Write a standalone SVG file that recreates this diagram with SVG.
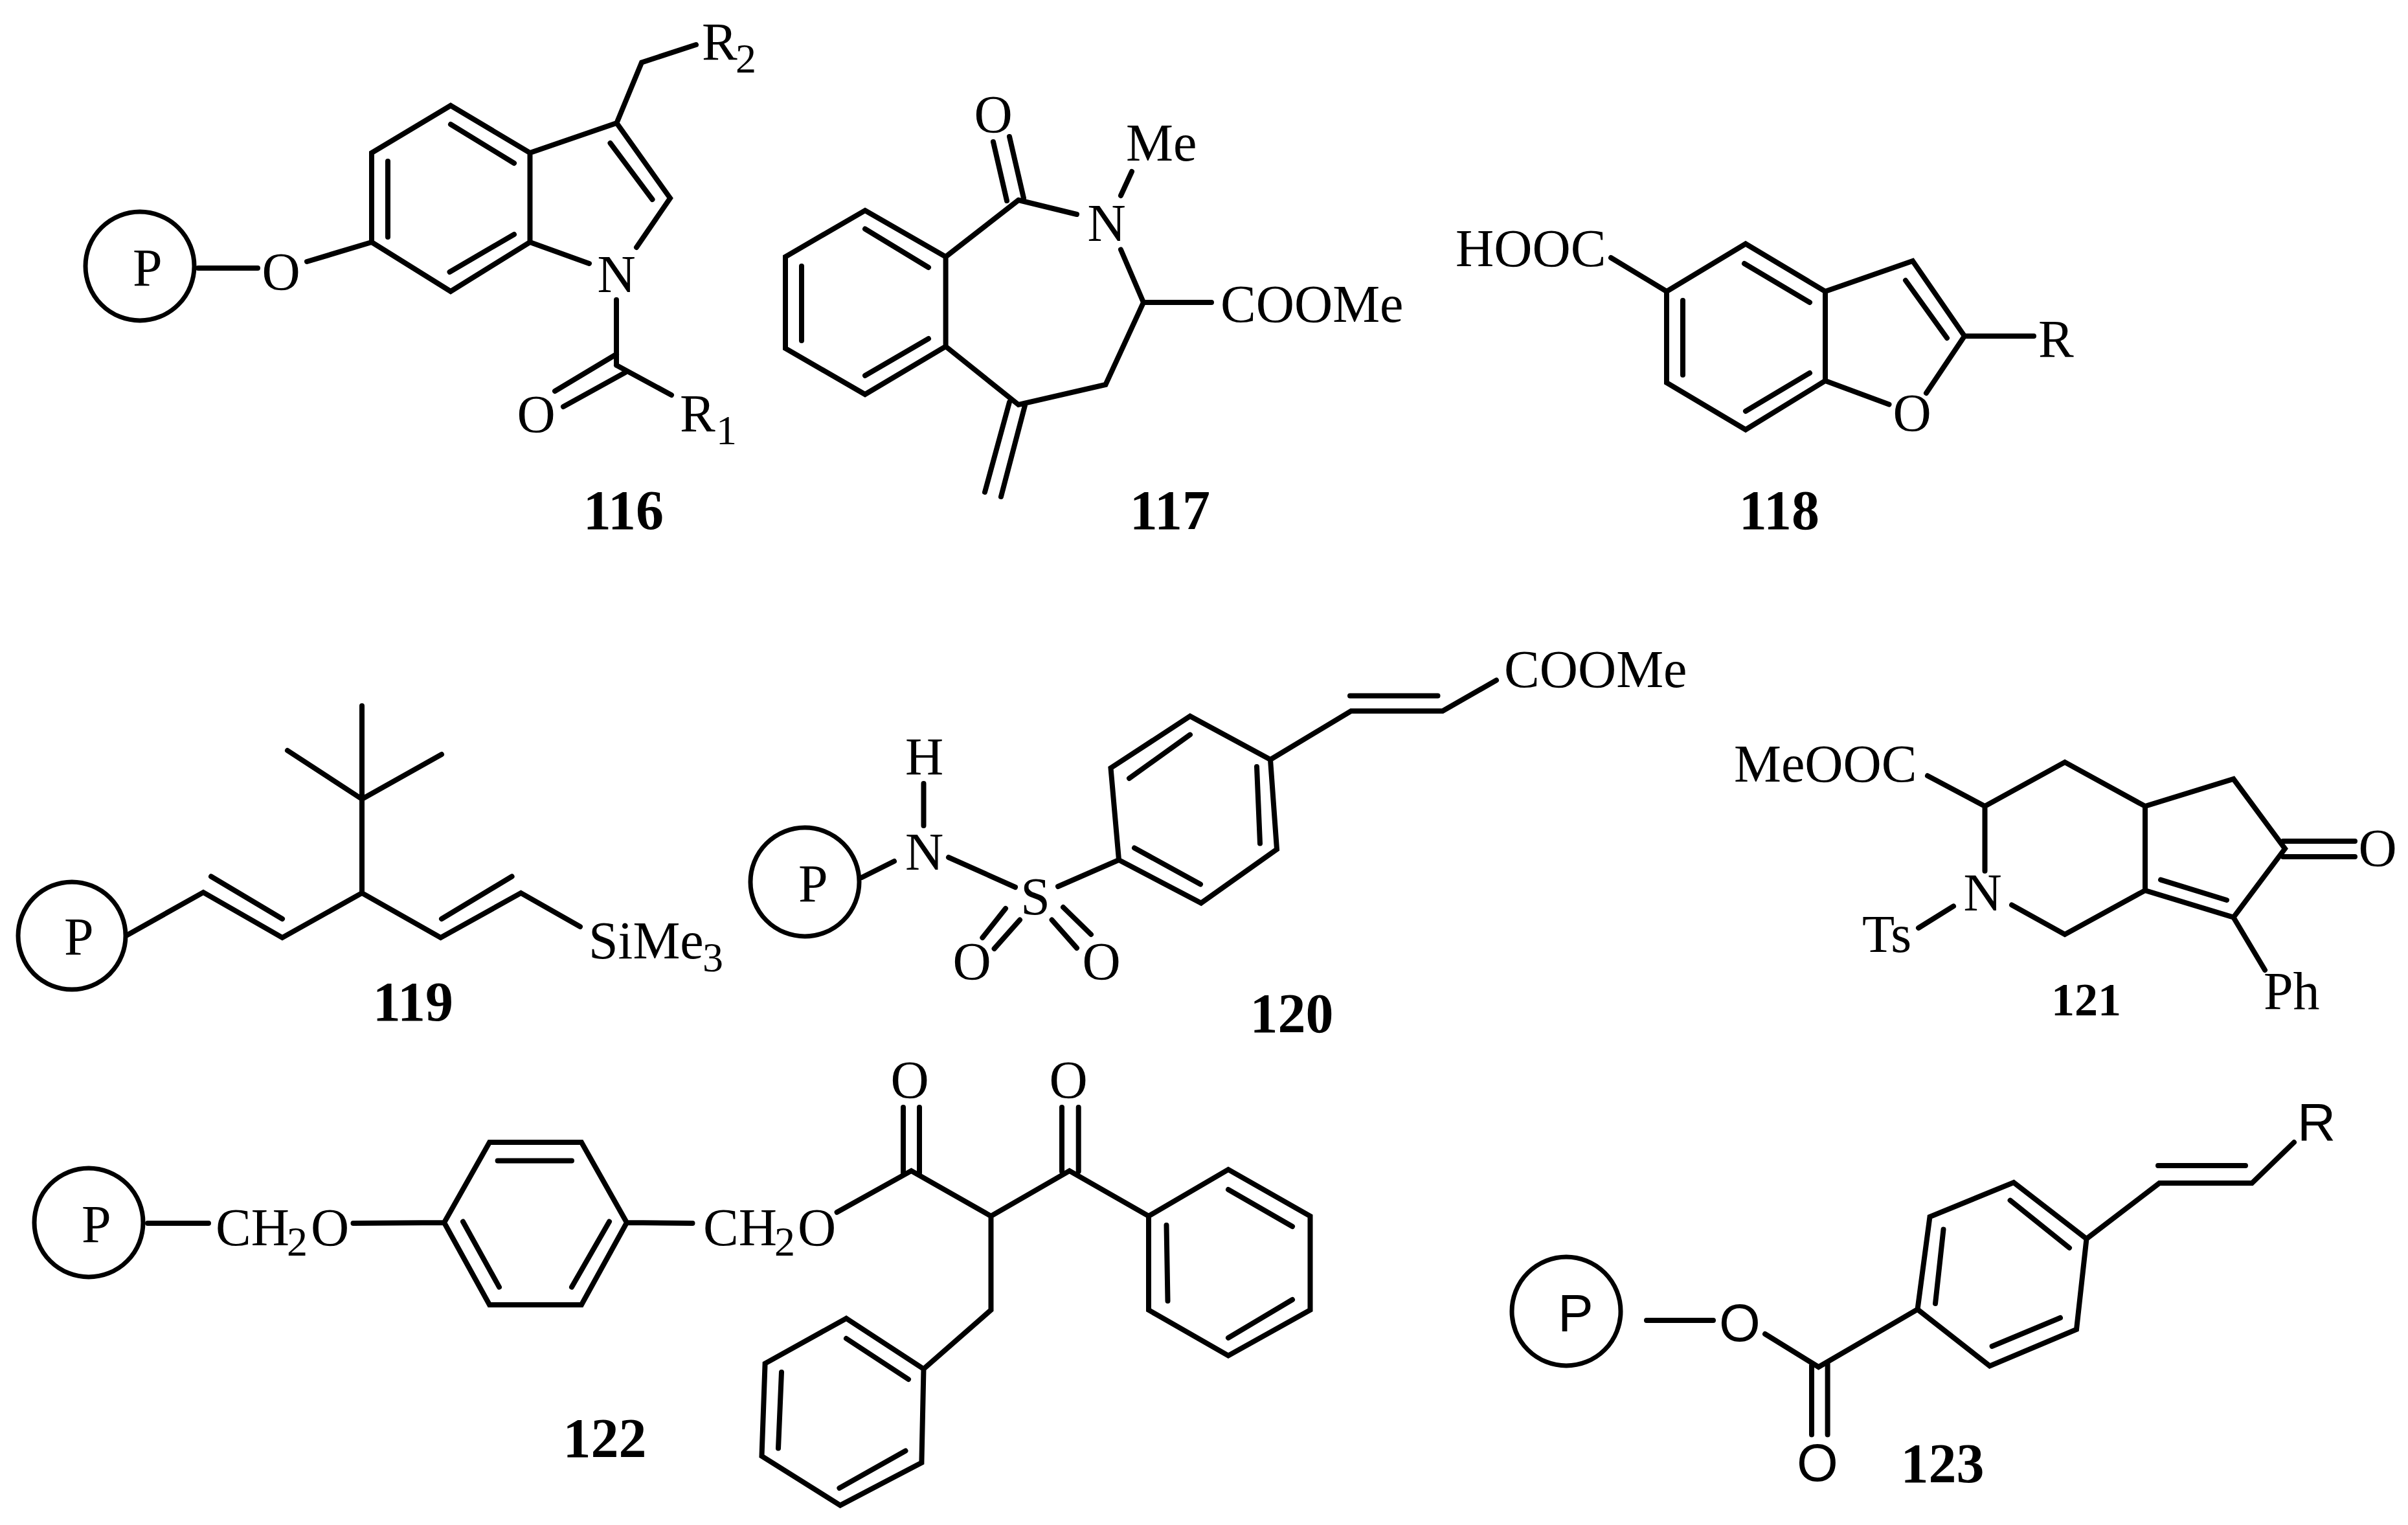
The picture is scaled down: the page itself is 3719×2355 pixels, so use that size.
<svg xmlns="http://www.w3.org/2000/svg" width="3719" height="2355" viewBox="0 0 3719 2355">
<style>
.bg{fill:#fff}
.l{fill:none;stroke:#000;stroke-width:8;stroke-linecap:round;stroke-linejoin:miter}
.c{fill:#fff;stroke:#000;stroke-width:7}
text{font-family:"Liberation Serif","Times New Roman",serif;font-size:82px;fill:#000}
.m{text-anchor:middle}
.b{font-weight:bold;text-anchor:middle;font-size:86px}
.s{font-size:64px}
.a{font-family:"Liberation Sans",Arial,sans-serif}
</style>
<rect class="bg" width="3719" height="2355"/>
<g id="c116">
<circle class="c" cx="216" cy="411" r="84"/>
<path class="l" d="M306 414H398M474 404L574 374M696 163L818.500 236V374L696 450L574 374V236ZM696 192L794 252M599 249V366M794 362L694.500 420M818.500 236L952.400 190L1035 306L983 382M942.500 221L1007.500 308M818.500 374L910 407M952.400 190L991 96.500L1075 69M952 463V564M952 547L857 604M966 575L870 628M952 564L1037 610"/>
<text x="205" y="441">P</text><text class="m" x="434" y="447">O</text><text class="m" x="952" y="451">N</text><text class="m" x="828" y="667">O</text>
<text x="1050" y="666">R</text><text class="s" x="1106" y="686">1</text>
<text x="1084" y="92">R</text><text class="s" x="1136" y="112">2</text>
<text class="b" x="963" y="817">116</text>
</g>
<g id="c117">
<path class="l" d="M1336 325L1460.600 396.500V535L1336 609L1213 538V396.500ZM1336 353.500L1434 413M1238 411V526M1336 580L1434 523M1460.600 396.500L1573 309M1534 219L1555 310M1559 211L1581 306M1573 309L1663 331M1748 265L1731 302M1731 385.500L1766 467H1871M1766 467L1707.500 594L1573 625L1460.600 535M1559 621L1521 760M1583 626L1546 767"/>
<text class="m" x="1534" y="204">O</text><text class="m" x="1709" y="372">N</text><text x="1739" y="248">Me</text><text x="1885" y="497">COOMe</text>
<text class="b" x="1807" y="817">117</text>
</g>
<g id="c118">
<path class="l" d="M2696 376.500L2819 450V588L2696 663.500L2574 591V450ZM2694 407L2795 467M2599 464V579M2696 635L2795 576M2819 450L2954 403L3034 519L2975 607M2943 433L3007 522M2819 588L2917.500 624.500M3034 519H3141M2488 398L2574 450"/>
<text class="m" x="2953" y="665">O</text><text x="3148" y="551">R</text><text x="2248" y="411">HOOC</text>
<text class="b" x="2748" y="817">118</text>
</g>
<g id="c119">
<circle class="c" cx="111" cy="1445" r="83"/>
<path class="l" d="M196.500 1444L314 1378L436 1448L559 1379L680.600 1448L804.500 1379L896 1431M326 1353.500L436 1419M682 1419L790.600 1353.500M559 1379V1090M559 1234L444 1159M559 1234L682 1165"/>
<text x="99" y="1474">P</text><text x="909" y="1480">SiMe</text><text class="s" x="1085" y="1500">3</text>
<text class="b" x="638" y="1576">119</text>
</g>
<g id="c120">
<circle class="c" cx="1243" cy="1362" r="84"/>
<path class="l" d="M1331 1355L1381 1330M1426.500 1210V1275M1465 1324L1568 1370M1634 1369L1728 1328L1715.500 1186L1838 1106L1962 1173L1972 1311.600L1855 1394.500L1728 1328M1838 1134.600L1744 1202M1941 1184L1946 1302.500M1752 1309.500L1854 1365.500M1962 1173L2086.600 1098H2228L2311 1050.500M2085 1074.500H2220.500M1553 1403L1517.400 1448M1575 1420.600L1535.600 1465M1642 1401L1685 1443M1624.600 1420.600L1663 1464"/>
<text x="1233" y="1392">P</text><text class="m" x="1427.500" y="1343">N</text><text class="m" x="1427.500" y="1196">H</text><text class="m" x="1599" y="1412">S</text>
<text class="m" x="1501" y="1512">O</text><text class="m" x="1701" y="1512">O</text><text x="2323" y="1061">COOMe</text>
<text class="b" x="1995" y="1594">120</text>
</g>
<g id="c121">
<path class="l" d="M2977 1198L3065.500 1245L3189 1177L3313 1245L3449.500 1203L3529 1310.600L3449.500 1416.700L3313 1375V1245M3526 1299H3637M3526 1323H3637M3337 1358.600L3439 1390M3313 1375L3189 1443L3107 1397.400M3065.500 1245V1345M3017 1399.400L2963 1433M3449.500 1416.700L3498 1498"/>
<text x="2678" y="1207">MeOOC</text><text class="m" x="3672" y="1337">O</text><text class="m" x="3062" y="1406">N</text><text x="2876" y="1470">Ts</text><text x="3496" y="1558">Ph</text>
<text class="b" x="3222" y="1568" style="font-size:72px">121</text>
</g>
<g id="c122">
<circle class="c" cx="137" cy="1888" r="84"/>
<path class="l" d="M228 1889H322M545.500 1889L686 1888L756 1764H898L968 1888L898 2015H756L686 1888M768.600 1792.600H883M715 1886.500L771 1987.600M941 1886.500L883 1987.600M968 1888L1069.500 1889M1292.600 1872L1407.400 1808L1530.500 1878L1651.700 1808L1774 1878L1897 1806L2023.500 1878V2023L1897 2093.500L1774 2023V1878M1395 1710V1812M1420 1710V1812M1640 1710V1809M1665.700 1710V1809M1897 1837L1996 1894M1801.500 1892L1803.500 2009M1996 2007L1897 2066M1530.500 1878V2023L1426.500 2114L1307 2036L1181.600 2105.600L1176.500 2248.600L1297.700 2324.600L1423.400 2258.700L1426.500 2114M1307 2067L1403 2130M1207 2119L1202 2236.500M1296.400 2298L1398.500 2240.400"/>
<text x="126" y="1918">P</text>
<text x="333" y="1923">CH</text><text class="s" x="443" y="1939">2</text><text x="480" y="1923">O</text>
<text x="1086" y="1923">CH</text><text class="s" x="1196" y="1939">2</text><text x="1232" y="1923">O</text>
<text class="m" x="1405" y="1695">O</text><text class="m" x="1650" y="1695">O</text>
<text class="b" x="934" y="2250">122</text>
</g>
<g id="c123">
<circle class="c" cx="2419" cy="2025" r="84"/>
<path class="l" d="M2543 2039H2646M2726 2060L2808.600 2111L2961.500 2022L2980.500 1879L3110 1826L3222.500 1913L3207 2053L3073 2109.500L2961.500 2022M2798 2108.600V2215.600M2822.600 2104V2215.600M3001.500 1898.600L2989 2013M3104.600 1853.700L3196 1927M3076.600 2079L3182 2035M3222.500 1913L3335 1827H3478L3543 1764M3333 1800H3468"/>
<text class="a" x="2406" y="2056">P</text><text class="a m" x="2687" y="2071">O</text><text class="a m" x="2807" y="2287">O</text><text class="a" x="3548" y="1761">R</text>
<text class="b" x="3000" y="2289">123</text>
</g>
</svg>
